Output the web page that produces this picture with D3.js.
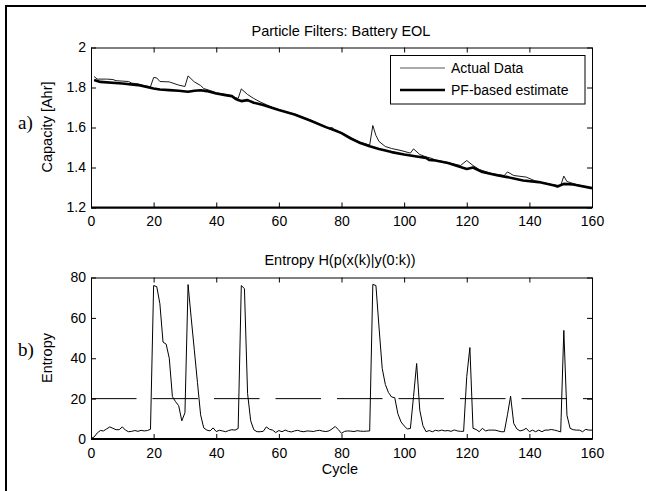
<!DOCTYPE html>
<html>
<head>
  <meta charset="utf-8">
  <title>Particle Filters: Battery EOL</title>
  <script src="https://d3js.org/d3.v7.min.js"></script>
  <style>
    body { margin: 0; background: #fff; }
    text { font-family: "Liberation Sans", Arial, Helvetica, sans-serif; fill: #000; }
  </style>
</head>
<body>
  <svg id="grafico"></svg>

  <script>
    // panel a) capacity
    const actCycles = [1, 2, 5, 7, 8, 10, 12, 13, 15, 17, 19, 20, 21, 22, 25, 28, 30, 31, 33, 35, 36, 38, 40, 43, 45, 46, 47, 48, 50, 52, 54, 56, 58, 60, 65, 70, 75, 76, 77, 78, 80, 83, 86, 89, 90, 91, 92, 94, 96, 99, 102, 103, 105, 107, 109, 110, 114, 118, 120, 122, 124, 128, 132, 133, 135, 139, 142, 145, 148, 150, 151, 152, 155, 160];
    const actCapacity = [1.855, 1.842, 1.842, 1.84, 1.834, 1.832, 1.83, 1.822, 1.818, 1.81, 1.804, 1.85, 1.848, 1.83, 1.828, 1.812, 1.805, 1.858, 1.828, 1.81, 1.795, 1.785, 1.774, 1.765, 1.758, 1.75, 1.745, 1.793, 1.765, 1.745, 1.728, 1.714, 1.70, 1.688, 1.667, 1.637, 1.604, 1.596, 1.60, 1.585, 1.575, 1.548, 1.527, 1.512, 1.61, 1.56, 1.53, 1.505, 1.495, 1.485, 1.472, 1.493, 1.465, 1.453, 1.445, 1.437, 1.425, 1.41, 1.435, 1.41, 1.39, 1.37, 1.36, 1.378, 1.36, 1.352, 1.332, 1.322, 1.312, 1.31, 1.357, 1.33, 1.315, 1.297];

    const pfCycles = [1, 3, 10, 15, 20, 22, 25, 28, 31, 33, 35, 37, 40, 43, 45, 46, 47, 48, 50, 52, 55, 58, 60, 65, 70, 75, 78, 80, 83, 86, 89, 92, 96, 100, 104, 107, 108, 110, 114, 118, 120, 122, 125, 130, 133, 138, 143, 148, 149, 151, 154, 160];
    const pfCapacity = [1.838, 1.828, 1.82, 1.812, 1.795, 1.79, 1.787, 1.784, 1.779, 1.784, 1.786, 1.782, 1.77, 1.762, 1.757, 1.745, 1.737, 1.732, 1.737, 1.724, 1.712, 1.697, 1.687, 1.665, 1.635, 1.602, 1.585, 1.572, 1.545, 1.522, 1.506, 1.492, 1.477, 1.465, 1.455, 1.448, 1.438, 1.435, 1.422, 1.403, 1.393, 1.40, 1.377, 1.36, 1.352, 1.335, 1.327, 1.31, 1.305, 1.318, 1.315, 1.297];

    // panel b) entropy, one value per cycle 0..160
    const entropy = [
      0.3, 1.0, 3.0, 4.2, 4.0, 5.0, 6.0, 5.3, 4.6, 4.6,
      6.0, 4.4, 3.6, 3.8, 4.2, 3.8, 4.3, 4.0, 4.2, 4.8,
      76.0, 75.5, 67.0, 48.0, 47.0, 40.0, 21.0, 18.5, 16.5, 9.0,
      13.0, 76.5, 60.0, 44.0, 28.0, 12.0, 5.5, 4.4, 4.0, 5.5,
      3.7, 4.3, 4.0, 3.6, 4.2, 4.6, 4.4, 5.2, 76.0, 74.5,
      22.6, 9.0, 4.6, 3.6, 3.6, 3.8, 6.0, 4.8, 4.4, 3.2,
      4.2, 3.6, 4.4, 3.8, 3.5, 4.0, 4.3, 3.8, 3.6, 4.0,
      3.9, 3.7, 4.1, 4.3, 3.9, 3.7, 4.0, 5.0, 6.2, 4.6,
      2.8, 3.8, 4.0, 3.9, 3.7, 4.1, 3.9, 3.8, 3.9, 4.0,
      76.6, 76.0, 55.0, 35.0, 27.0, 23.0, 20.8, 20.5, 12.5, 8.5,
      6.5, 5.0, 5.2, 21.0, 37.4, 14.3, 6.6, 3.6, 4.2, 3.6,
      4.3, 4.0, 4.4, 4.0, 4.2, 3.8, 4.5, 4.0, 3.8, 3.8,
      31.0, 45.3, 5.3, 4.7, 3.6, 5.3, 4.0, 4.4, 4.4, 4.4,
      4.0, 3.6, 3.6, 12.0, 21.2, 7.7, 5.0, 4.0, 4.4, 5.3,
      3.6, 4.4, 3.6, 4.4, 3.6, 4.4, 4.4, 4.7, 4.4, 4.0,
      3.5, 53.8, 11.8, 5.3, 4.6, 4.4, 4.4, 3.6, 4.8, 4.4,
      4.4
    ];
    const threshold = 20;

    const xTicks = [0, 20, 40, 60, 80, 100, 120, 140, 160];
    const capTicks = [1.2, 1.4, 1.6, 1.8, 2];
    const entTicks = [0, 20, 40, 60, 80];

    const svg = d3.select("#grafico")
      .attr("width", 646)
      .attr("height", 491);

    svg.append("rect").attr("width", 646).attr("height", 491).attr("fill", "#fff");

    // marco exterior (solo lados izquierdo y superior visibles)
    svg.append("path")
      .attr("d", "M6,491V6H646")
      .attr("fill", "none")
      .attr("stroke", "#000")
      .attr("stroke-width", 2);

    const left = 91, right = 592;
    const x = d3.scaleLinear().domain([0, 160]).range([left, right]);
    const yCap = d3.scaleLinear().domain([1.2, 2]).range([207.5, 47.5]);
    const yEnt = d3.scaleLinear().domain([0, 80]).range([439, 277.5]);

    function panel(y, yTickVals, fmt) {
      const g = svg.append("g");
      const [y0, y1] = y.range();

      g.append("g")
        .attr("transform", `translate(0,${y0})`)
        .call(d3.axisBottom(x).tickValues(xTicks).tickSize(-5).tickSizeOuter(0).tickPadding(9));
      g.append("g")
        .attr("transform", `translate(0,${y1})`)
        .call(d3.axisTop(x).tickValues(xTicks).tickSize(-5).tickSizeOuter(0).tickFormat(""));
      g.append("g")
        .attr("transform", `translate(${left},0)`)
        .call(d3.axisLeft(y).tickValues(yTickVals).tickSize(-5).tickSizeOuter(0).tickPadding(5).tickFormat(fmt));
      g.append("g")
        .attr("transform", `translate(${right},0)`)
        .call(d3.axisRight(y).tickValues(yTickVals).tickSize(-5).tickSizeOuter(0).tickFormat(""));

      g.selectAll(".domain").attr("stroke", "#000").attr("stroke-width", 1);
      g.selectAll(".tick line").attr("stroke", "#000");
      g.selectAll(".tick text").style("font-size", "14px").attr("fill", "#000");

      g.append("line")
        .attr("x1", left).attr("x2", right)
        .attr("y1", y0).attr("y2", y0)
        .attr("stroke", "#000").attr("stroke-width", 2);
      return g;
    }

    // --- a) ---
    const gA = panel(yCap, capTicks, d => d === 2 ? "2" : d3.format(".1f")(d));

    const lineCap = d3.line().x(d => x(d[0])).y(d => yCap(d[1]));

    gA.append("path")
      .datum(actCycles.map((c, i) => [c, actCapacity[i]]))
      .attr("d", lineCap)
      .attr("fill", "none")
      .attr("stroke", "#000")
      .attr("stroke-width", 0.9);

    gA.append("path")
      .datum(pfCycles.map((c, i) => [c, pfCapacity[i]]))
      .attr("d", lineCap)
      .attr("fill", "none")
      .attr("stroke", "#000")
      .attr("stroke-width", 2.6)
      .attr("stroke-linejoin", "round");

    // leyenda
    const leg = gA.append("g");
    leg.append("rect")
      .attr("x", 390.5).attr("y", 55.5)
      .attr("width", 194.5).attr("height", 48.5)
      .attr("fill", "#fff").attr("stroke", "#000").attr("stroke-width", 1);
    leg.append("line")
      .attr("x1", 400).attr("x2", 445).attr("y1", 68).attr("y2", 68)
      .attr("stroke", "#555").attr("stroke-width", 1);
    leg.append("line")
      .attr("x1", 400).attr("x2", 445).attr("y1", 90).attr("y2", 90)
      .attr("stroke", "#000").attr("stroke-width", 2.6);
    leg.append("text").attr("x", 451).attr("y", 73).style("font-size", "14px").text("Actual Data");
    leg.append("text").attr("x", 451).attr("y", 95).style("font-size", "14px").text("PF-based estimate");

    svg.append("text")
      .attr("x", 341).attr("y", 36)
      .attr("text-anchor", "middle")
      .style("font-size", "14.5px")
      .text("Particle Filters: Battery EOL");

    svg.append("text")
      .attr("transform", "translate(52,127) rotate(-90)")
      .attr("text-anchor", "middle")
      .style("font-size", "14.5px")
      .text("Capacity [Ahr]");

    svg.append("text")
      .attr("x", 18).attr("y", 129)
      .style("font-family", "'Liberation Serif', 'Times New Roman', serif")
      .style("font-size", "19px")
      .text("a)");

    // --- b) ---
    const gB = panel(yEnt, entTicks, d3.format("d"));

    gB.append("line")
      .attr("x1", x(0)).attr("x2", x(160))
      .attr("y1", yEnt(threshold)).attr("y2", yEnt(threshold))
      .attr("stroke", "#000").attr("stroke-width", 1)
      .attr("stroke-dasharray", "45.5,16");

    gB.append("path")
      .datum(entropy)
      .attr("d", d3.line().x((d, i) => x(i)).y(d => yEnt(d)))
      .attr("fill", "none")
      .attr("stroke", "#000")
      .attr("stroke-width", 1);

    svg.append("text")
      .attr("x", 340).attr("y", 265)
      .attr("text-anchor", "middle")
      .style("font-size", "14.5px")
      .text("Entropy H(p(x(k)|y(0:k))");

    svg.append("text")
      .attr("transform", "translate(52,358) rotate(-90)")
      .attr("text-anchor", "middle")
      .style("font-size", "14.5px")
      .text("Entropy");

    svg.append("text")
      .attr("x", 340).attr("y", 474)
      .attr("text-anchor", "middle")
      .style("font-size", "14.5px")
      .text("Cycle");

    svg.append("text")
      .attr("x", 18).attr("y", 356)
      .style("font-family", "'Liberation Serif', 'Times New Roman', serif")
      .style("font-size", "19px")
      .text("b)");
  </script>
</body>
</html>
